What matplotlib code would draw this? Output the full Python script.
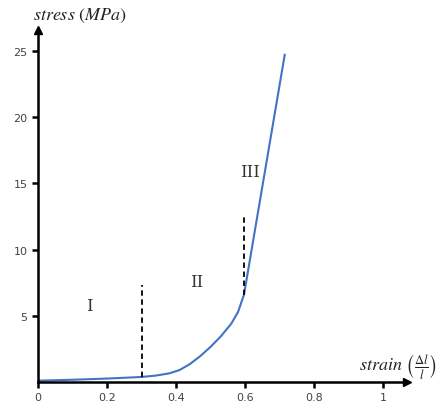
import numpy as np
import matplotlib
matplotlib.use("Agg")
import matplotlib.pyplot as plt

plt.rcParams["mathtext.fontset"] = "stix"

# stress-strain curve
strain = [0, 0.1, 0.2, 0.3, 0.34, 0.38, 0.41, 0.44, 0.47, 0.5, 0.53, 0.56, 0.58, 0.597, 0.715]
stress = [0.1, 0.17, 0.26, 0.38, 0.48, 0.65, 0.9, 1.35, 1.95, 2.65, 3.45, 4.4, 5.3, 6.6, 24.7]

# region boundaries (x, y_bottom, y_top)
bound_x = [0.3, 0.597]
bound_lo = [0.38, 6.6]
bound_hi = [7.3, 12.6]

region_names = ["I", "II", "III"]
region_x = [0.15, 0.46, 0.615]
region_y = [5.8, 7.6, 15.9]

xticks = [0, 0.2, 0.4, 0.6, 0.8, 1]
xticklabels = ["0", "0.2", "0.4", "0.6", "0.8", "1"]
yticks = [5, 10, 15, 20, 25]

fig = plt.figure(figsize=(4.45, 4.06), dpi=100)
ax = fig.add_axes([38/445, 23/406, 0.853, 0.881])
ax.set_xlim(0, 1.1)
ax.set_ylim(0, 27)

ax.plot(strain, stress, color="#4472C4", lw=1.5)
for x, lo, hi in zip(bound_x, bound_lo, bound_hi):
    ax.plot([x, x], [lo, hi], color="black", lw=1.3, ls=(0, (3, 2)))

for name, x, y in zip(region_names, region_x, region_y):
    ax.text(x, y, name, family="DejaVu Serif", fontsize=12, color="#333333",
            ha="center", va="center")

for s in ["top", "right"]:
    ax.spines[s].set_visible(False)
ax.spines["left"].set_linewidth(1.8)
ax.spines["bottom"].set_linewidth(1.8)
ax.spines["left"].set_bounds(0, 26.3)
ax.spines["bottom"].set_bounds(0, 1.06)
# arrow heads
ax.plot(1.07, 0, marker=">", color="black", ms=6, clip_on=False)
ax.plot(0, 26.6, marker="^", color="black", ms=6, clip_on=False)

ax.set_xticks(xticks)
ax.set_xticklabels(xticklabels)
ax.set_yticks(yticks)
ax.tick_params(direction="out", length=4, width=1.8, labelsize=8,
               labelcolor="#444444")

fig.text(80/445, 1 - 16/406, r"$stress\ (MPa)$", fontsize=13,
         ha="center", va="center", color="#222222")
fig.text(398/445, 1 - 367/406, r"$strain\ \left(\frac{\Delta l}{l}\right)$",
         fontsize=13, ha="center", va="center", color="#222222")

fig.savefig("out.png", dpi=100)
